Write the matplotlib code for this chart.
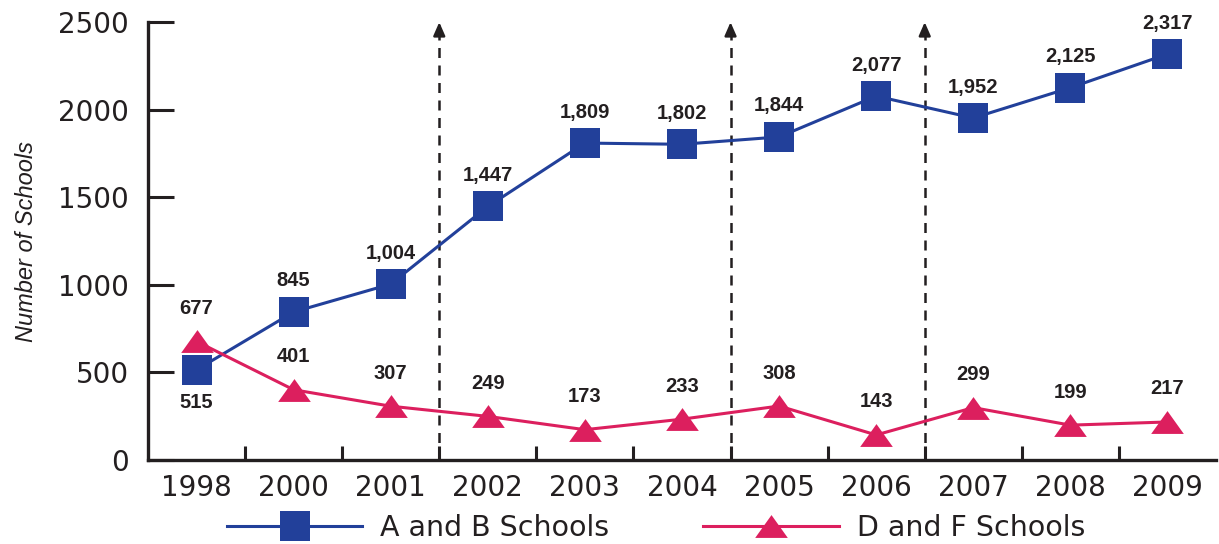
import matplotlib.pyplot as plt
from matplotlib.path import Path

years = ['1998', '2000', '2001', '2002', '2003', '2004', '2005', '2006', '2007', '2008', '2009']
ab_schools = [515, 845, 1004, 1447, 1809, 1802, 1844, 2077, 1952, 2125, 2317]
df_schools = [677, 401, 307, 249, 173, 233, 308, 143, 299, 199, 217]
arrow_pos = [2.5, 5.5, 7.5]   # boundaries 2001|2002, 2004|2005, 2006|2007

blue = '#22409A'
pink = '#DC1F5E'
ink = '#231F20'
narrow = ['Liberation Sans Narrow', 'Liberation Sans', 'DejaVu Sans']

fig = plt.figure(figsize=(12.19, 5.44), dpi=100)
ax = fig.add_axes([148 / 1219, 84 / 544, (1216 - 148) / 1219, 438 / 544])

x = list(range(len(years)))
tri = Path([(-1, -0.7), (1, -0.7), (0, 0.7), (-1, -0.7)],
           [Path.MOVETO, Path.LINETO, Path.LINETO, Path.CLOSEPOLY])

ax.plot(x, ab_schools, color=blue, lw=2.2, marker='s', ms=21.5, mew=0,
        label='A and B Schools', zorder=3)
ax.plot(x, df_schools, color=pink, lw=2.2, marker=tri, ms=23.5, mew=0,
        label='D and F Schools', zorder=3)

# value labels
for i, v in enumerate(ab_schools):
    dy = -33 if i == 0 else 31
    ax.annotate(f'{v:,}', (i, v), xytext=(0, dy), textcoords='offset pixels',
                ha='center', va='center', fontsize=14.5, fontweight='bold',
                family=narrow, color=ink)
for i, v in enumerate(df_schools):
    ax.annotate(f'{v:,}', (i, v), xytext=(0, 33), textcoords='offset pixels',
                ha='center', va='center', fontsize=14.5, fontweight='bold',
                family=narrow, color=ink)

# dashed arrows
for p in arrow_pos:
    ax.plot([p, p], [0, 2440], color=ink, lw=1.8, ls=(0, (4, 3)), clip_on=False, zorder=2)
    ax.annotate('', xy=(p, 2515), xytext=(p, 2430),
                arrowprops=dict(arrowstyle='-|>,head_length=0.8,head_width=0.35',
                                color=ink, lw=1.8),
                annotation_clip=False)

ax.set_xlim(-0.5, 10.5)
ax.set_ylim(0, 2500)
ax.set_xticks(x)
ax.set_xticklabels(years)
ax.set_xticks([i + 0.5 for i in range(10)], minor=True)
ax.set_yticks([0, 500, 1000, 1500, 2000, 2500])

ax.tick_params(axis='x', which='major', length=0, pad=10, labelsize=20, labelcolor=ink)
ax.tick_params(axis='x', which='minor', direction='in', length=10, width=2.2, color=ink)
ax.tick_params(axis='y', direction='in', length=19, width=2.2, color=ink,
               pad=14, labelsize=20, labelcolor=ink)

for s in ['top', 'right']:
    ax.spines[s].set_visible(False)
for s in ['left', 'bottom']:
    ax.spines[s].set_linewidth(2.4)
    ax.spines[s].set_color(ink)

ax.set_ylabel('Number of Schools', fontsize=17, style='italic', family=narrow,
              color=ink, labelpad=14)

fig.legend(loc='center', bbox_to_anchor=(656 / 1219, 16 / 544), ncol=2, frameon=False,
           fontsize=20.5, handlelength=4.75, handletextpad=0.63, columnspacing=3.3,
           labelcolor=ink)

fig.savefig('out.png', dpi=100)
